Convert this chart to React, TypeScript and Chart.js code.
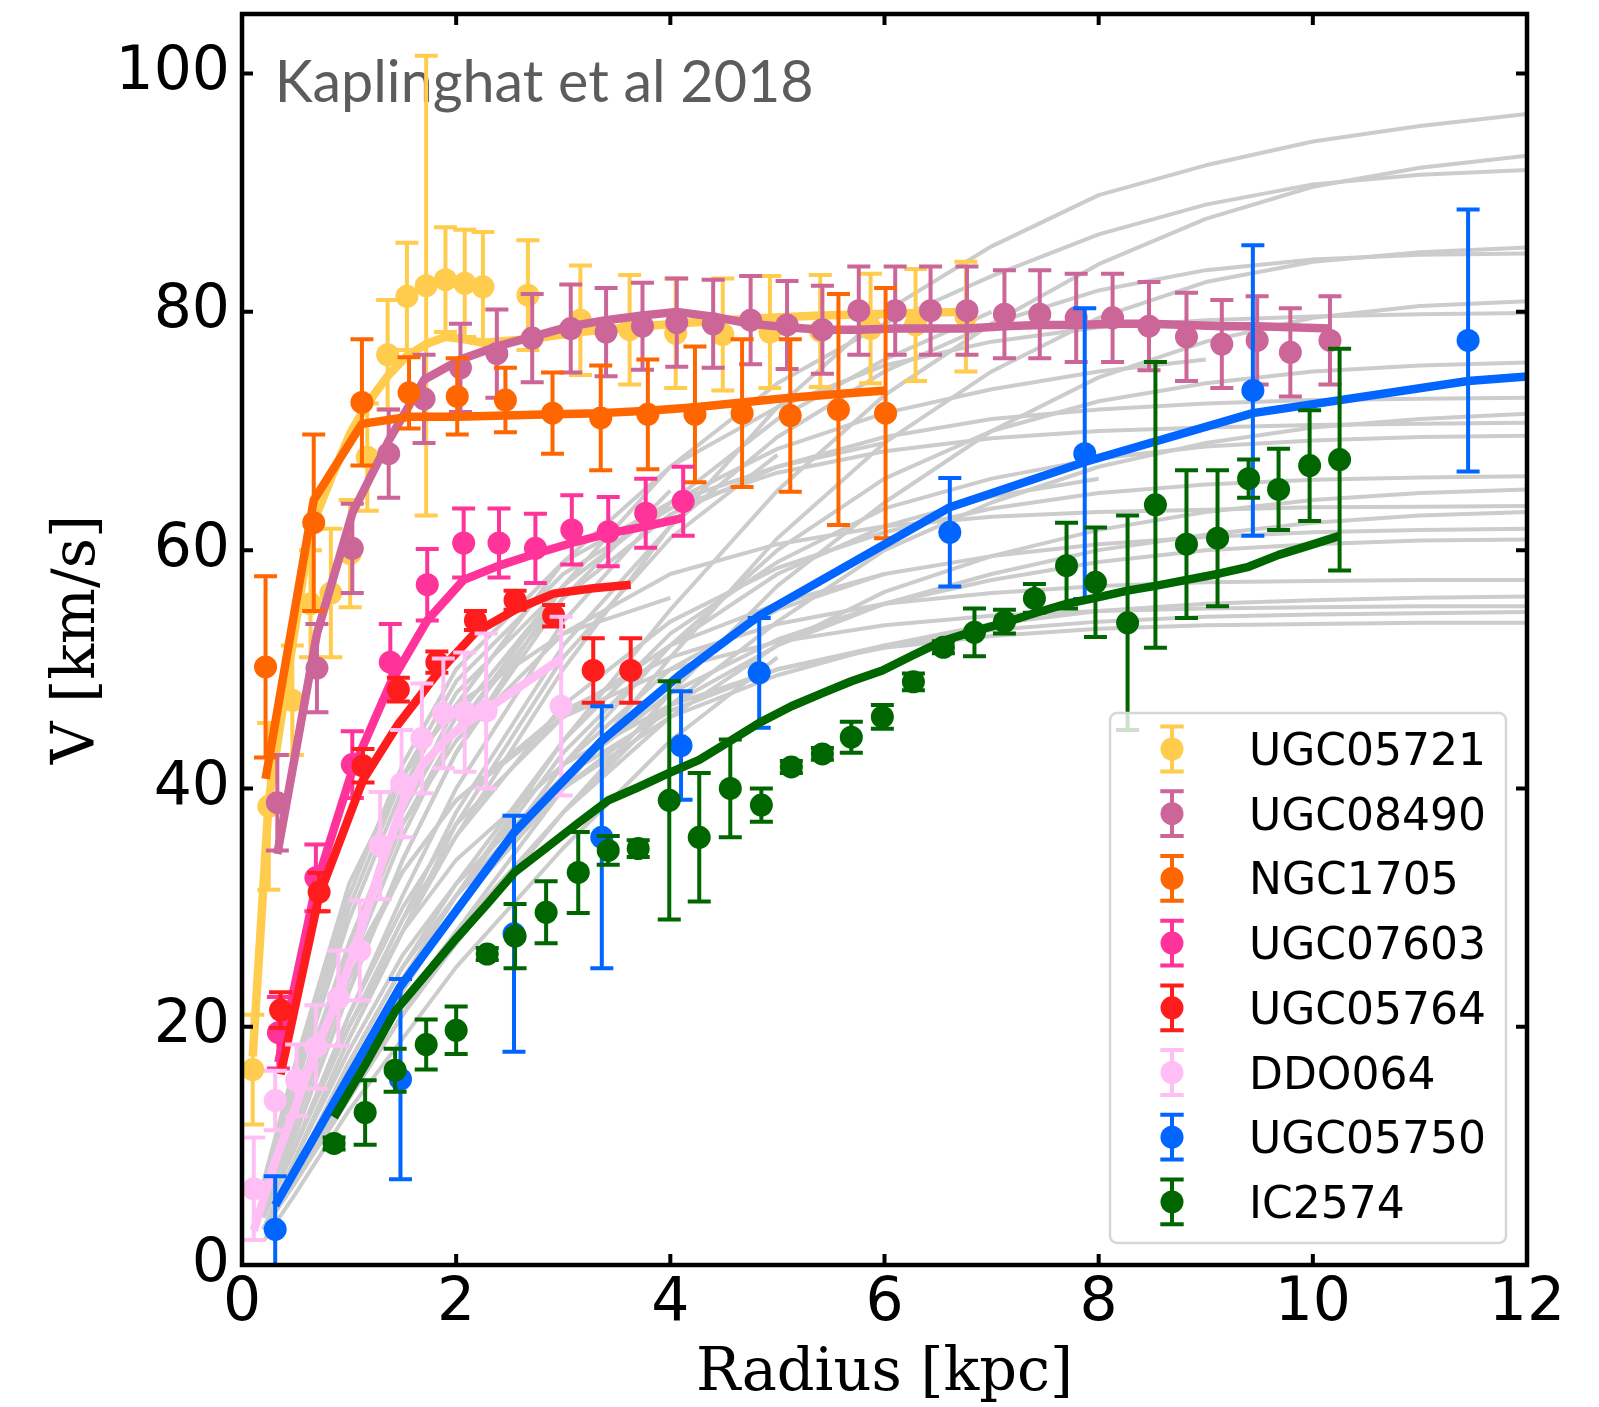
import React, { useEffect, useRef } from "react";
import { Chart, registerables } from "chart.js";

Chart.register(...registerables);

const CANVAS_W = 1599;
const CANVAS_H = 1407;

const xTickValues = [0, 2, 4, 6, 8, 10, 12];
const yTickValues = [0, 20, 40, 60, 80, 100];
const xTitle = "Radius [kpc]";
const yTitle = "V [km/s]";
const annotationText = "Kaplinghat et al 2018";

// ---- UGC05721 ----
const ugc05721R = [0.1, 0.25, 0.47, 0.64, 0.83, 1.01, 1.17, 1.36, 1.54, 1.72, 1.9, 2.08, 2.25, 2.67, 3.16, 3.62, 4.05, 4.49, 4.93, 5.4, 5.87, 6.29, 6.76];
const ugc05721V = [16.4, 38.5, 47.4, 55.5, 56.4, 59.7, 67.8, 76.4, 81.3, 82.2, 82.7, 82.4, 82.1, 81.4, 79.3, 78.5, 78.2, 78.1, 78.3, 78.4, 78.6, 78.9, 79.6];
const ugc05721E = [4.6, 7.0, 4.6, 4.5, 5.4, 4.5, 4.5, 4.6, 4.5, 19.3, 4.4, 4.5, 4.6, 4.6, 4.6, 4.6, 4.6, 4.7, 4.7, 4.7, 4.6, 4.7, 4.6];
const ugc05721M = [17.5, 39, 52, 61.7, 66, 69.8, 72.3, 74.6, 76.3, 77.3, 77.9, 77.7, 77.4, 77.7, 78.3, 78.7, 79.0, 79.3, 79.5, 79.7, 79.8, 79.9, 80.0];

// ---- UGC08490 ----
const ugc08490R = [0.33, 0.7, 1.03, 1.37, 1.7, 2.04, 2.38, 2.71, 3.07, 3.4, 3.74, 4.06, 4.4, 4.75, 5.09, 5.42, 5.76, 6.1, 6.43, 6.77, 7.12, 7.45, 7.79, 8.13, 8.47, 8.82, 9.15, 9.48, 9.79, 10.16];
const ugc08490V = [38.8, 50.1, 60.15, 68.1, 72.7, 75.3, 76.5, 77.8, 78.6, 78.3, 78.8, 79.1, 79.0, 79.3, 78.9, 78.5, 80.1, 80.1, 80.1, 80.1, 79.8, 79.8, 79.5, 79.5, 78.8, 77.9, 77.3, 77.6, 76.6, 77.6];
const ugc08490E = [4.0, 3.7, 3.75, 3.7, 3.7, 3.7, 3.7, 3.7, 3.7, 3.7, 3.65, 3.7, 3.7, 3.7, 3.7, 3.7, 3.7, 3.7, 3.7, 3.7, 3.7, 3.7, 3.7, 3.7, 3.7, 3.7, 3.7, 3.7, 3.7, 3.7];
const ugc08490M = [34.5, 53, 63.1, 69.2, 74.3, 76.0, 77.1, 77.9, 78.8, 79.3, 79.7, 80.0, 79.6, 79.0, 78.7, 78.5, 78.5, 78.6, 78.6, 78.6, 78.8, 78.9, 78.9, 79.0, 79.0, 78.9, 78.8, 78.8, 78.7, 78.6];

// ---- NGC1705 ----
const ngc1705R = [0.22, 0.67, 1.12, 1.56, 2.01, 2.46, 2.9, 3.35, 3.79, 4.23, 4.67, 5.12, 5.57, 6.01];
const ngc1705V = [50.2, 62.3, 72.4, 73.2, 72.9, 72.6, 71.5, 71.1, 71.4, 71.4, 71.5, 71.3, 71.8, 71.5];
const ngc1705E = [7.6, 7.4, 5.3, 3.0, 3.2, 2.7, 3.4, 4.4, 4.6, 5.7, 6.2, 6.4, 9.7, 10.5];
const ngc1705M = [40.8, 64.2, 70.6, 71.2, 71.2, 71.3, 71.4, 71.5, 71.7, 72.0, 72.4, 72.8, 73.1, 73.4];

// ---- UGC07603 ----
const ugc07603R = [0.34, 0.69, 1.03, 1.385, 1.73, 2.07, 2.4, 2.74, 3.08, 3.42, 3.77, 4.12];
const ugc07603V = [19.5, 32.5, 42.0, 50.6, 57.1, 60.6, 60.6, 60.15, 61.7, 61.55, 63.1, 64.1];
const ugc07603E = [3.0, 2.8, 2.8, 3.2, 3.0, 2.9, 2.9, 2.9, 2.9, 2.9, 2.9, 2.9];
const ugc07603M = [17.0, 31.8, 41.5, 48.8, 54.1, 57.5, 58.7, 59.7, 60.6, 61.4, 62.0, 62.7];

// ---- UGC05764 ----
const ugc05764R = [0.36, 0.72, 1.13, 1.46, 1.82, 2.18, 2.55, 2.91, 3.28, 3.63];
const ugc05764V = [21.4, 31.3, 41.9, 48.3, 50.6, 54.1, 55.8, 54.5, 49.9, 49.9];
const ugc05764E = [1.5, 1.6, 1.4, 1.0, 0.9, 0.8, 0.8, 0.9, 2.7, 2.7];
const ugc05764M = [16.0, 31.0, 40.7, 45.4, 49.6, 53.1, 55.0, 56.35, 56.8, 57.1];

// ---- DDO064 ----
const ddo064R = [0.11, 0.31, 0.51, 0.69, 0.9, 1.1, 1.29, 1.49, 1.68, 1.88, 2.08, 2.28, 2.98];
const ddo064V = [6.4, 13.8, 15.5, 18.3, 22.4, 26.4, 35.2, 40.4, 44.2, 46.3, 46.4, 46.5, 46.9];
const ddo064E = [4.3, 2.5, 3.0, 3.5, 4.0, 4.2, 4.5, 4.5, 4.6, 4.6, 5.0, 6.5, 7.5];
const ddo064M = [2.9, 8.7, 13.5, 18.1, 22.4, 27.8, 33.3, 38.5, 41.9, 43.9, 45.4, 46.6, 50.9];

// ---- UGC05750 ----
const ugc05750R = [0.31, 1.48, 2.54, 3.36, 4.1, 4.83, 6.61, 7.87, 9.44, 11.45];
const ugc05750V = [3.0, 15.6, 27.8, 35.9, 43.6, 49.7, 61.5, 68.1, 73.4, 77.6];
const ugc05750E = [4.45, 8.4, 9.9, 11.0, 4.55, 4.6, 4.55, 12.2, 12.2, 11.0];
const ugc05750ModelR = [0.31, 1.48, 2.54, 3.36, 4.1, 4.83, 6.61, 7.87, 9.44, 11.45, 12.5];
const ugc05750M = [5.0, 23.4, 36.3, 44.0, 49.6, 54.5, 63.6, 67.4, 71.5, 74.2, 74.9];

// ---- IC2574 ----
const ic2574R = [0.86, 1.15, 1.43, 1.72, 2.0, 2.29, 2.55, 2.84, 3.14, 3.42, 3.7, 3.99, 4.27, 4.56, 4.85, 5.13, 5.42, 5.69, 5.98, 6.27, 6.55, 6.84, 7.12, 7.4, 7.7, 7.97, 8.27, 8.53, 8.82, 9.11, 9.4, 9.68, 9.97, 10.25];
const ic2574V = [10.2, 12.8, 16.35, 18.5, 19.7, 26.1, 27.6, 29.6, 32.95, 34.8, 34.95, 39.0, 35.9, 40.0, 38.6, 41.8, 42.9, 44.3, 46.0, 48.95, 51.85, 53.1, 54.0, 55.95, 58.7, 57.3, 53.9, 63.8, 60.5, 61.0, 66.0, 65.1, 67.1, 67.6];
const ic2574E = [0.5, 2.7, 1.8, 2.1, 2.0, 0.5, 2.7, 2.6, 3.4, 1.2, 0.7, 10.0, 5.4, 4.1, 1.4, 0.5, 0.5, 1.3, 1.0, 0.7, 0.5, 2.0, 1.0, 1.2, 3.6, 4.6, 9.0, 12.0, 6.2, 5.7, 1.6, 3.4, 4.65, 9.3];
const ic2574M = [12.4, 16.8, 21.3, 24.4, 27.4, 30.3, 33.0, 35.0, 37.1, 39.0, 40.1, 41.3, 42.4, 44.0, 45.6, 46.9, 48.0, 49.0, 49.9, 51.2, 52.4, 53.2, 53.9, 54.7, 55.5, 56.0, 56.6, 57.0, 57.5, 58.0, 58.6, 59.6, 60.4, 61.2];

// ---- background model curves (grey) ----
const grayRadii = [0.2, 0.5, 1, 1.5, 2, 3, 4, 5, 6, 7, 8, 9, 10, 11, 12];
const grayCurves = [
  [3, 9, 19, 28, 36, 50, 62, 72, 80, 85.5, 89.8, 92.3, 94.3, 95.6, 96.6],
  [3, 8, 16, 24, 31, 44, 55, 65, 73, 79, 84, 87.8, 90.5, 92.1, 93.1],
  [4, 11, 23, 34, 43, 57, 67, 74, 79, 83, 86.5, 89, 90.7, 91.5, 91.9],
  [3, 7, 14, 21, 28, 40, 51, 61, 69, 75, 79.5, 82.5, 84.2, 85, 85.4],
  [4, 10, 20, 29, 38, 52, 62, 69.5, 75, 79, 81.8, 83.5, 84.4, 84.8, 84.9],
  [3, 7, 14, 21, 27, 38, 48, 57, 64, 70, 74.5, 77.5, 79.5, 80.5, 80.9],
  [5, 13, 27, 38, 47, 59, 67, 72, 75.5, 77.5, 78.7, 79.3, 79.6, 79.8, 79.9],
  [3, 8, 16, 23, 30, 42, 52, 60, 66, 70, 72.5, 74, 75, 75.5, 75.75],
  [5, 13, 26, 37, 45, 56, 63, 67, 69.5, 71, 71.8, 72.3, 72.6, 72.7, 72.8],
  [3, 7, 14, 21, 27, 38, 47, 54, 60, 64, 67, 69, 70.3, 71, 71.45],
  [6, 15, 30, 41, 49, 58, 63.5, 66.5, 68.3, 69.4, 70, 70.3, 70.5, 70.6, 70.7],
  [3, 8, 17, 25, 32, 44, 53, 59, 63.5, 66, 67.7, 68.7, 69.2, 69.5, 69.6],
  [4, 10, 20, 29, 36, 47, 54, 58.5, 61.5, 63.5, 64.8, 65.5, 65.9, 66.1, 66.2],
  [3, 7, 15, 22, 28, 38, 46, 52, 56.5, 59.5, 61.7, 63.2, 64.2, 64.8, 65.1],
  [6, 14, 27, 37, 44, 53, 58, 60.5, 62, 62.8, 63.2, 63.4, 63.6, 63.65, 63.7],
  [3, 8, 16, 24, 30, 40, 47, 52, 55.5, 58, 60, 61.3, 62.3, 62.9, 63.2],
  [4, 10, 21, 30, 37, 46, 52, 55.5, 58, 59.5, 60.5, 61.1, 61.5, 61.7, 61.8],
  [3, 8, 17, 25, 31, 41, 48, 52.5, 55.5, 57.5, 59, 60, 60.5, 60.8, 60.9],
  [5, 12, 24, 33, 39, 46.5, 51, 53.8, 55.5, 56.4, 57, 57.3, 57.4, 57.5, 57.5],
  [3, 8, 17, 25, 31, 40, 46, 49.5, 52, 53.8, 54.9, 55.5, 55.8, 56, 56.1],
  [5, 13, 25, 33, 39, 46, 50, 52.3, 53.7, 54.5, 54.9, 55.1, 55.2, 55.3, 55.3],
  [3, 9, 18, 26, 32, 41, 46.5, 50, 52, 53.3, 54, 54.4, 54.6, 54.7, 54.8],
  [4, 10, 20, 28, 34, 42, 47, 50, 51.8, 52.8, 53.4, 53.7, 53.8, 53.9, 53.9],
  [5, 13, 27, 38, 46, 57],
  [4, 11, 23, 34, 43, 56, 65],
  [3, 9, 19, 28, 37, 51, 61, 68],
  [6, 16, 31, 42, 50, 59, 64, 67, 69],
  [4, 10, 21, 31, 40, 54, 64, 71, 76, 80],
  [3, 8, 16, 24, 31, 43, 52, 58, 62, 64.5, 66],
  [7, 17, 32, 41, 47, 53, 56],
  [4, 12, 25, 36, 45, 57, 64, 68.5, 71.5, 73.5, 75, 76],
  [3, 7, 15, 23, 30, 42, 50, 55, 58],
  [6, 15, 29, 40, 48, 57],
  [2, 6, 13, 19, 25, 35, 44, 51],
];

const galaxyNames = ["UGC05721", "UGC08490", "NGC1705", "UGC07603", "UGC05764", "DDO064", "UGC05750", "IC2574"];
const galaxyColors = ["#ffcc4d", "#cc6699", "#ff6600", "#ff3399", "#ff1c1c", "#ffbff5", "#0066ff", "#006600"];

const galaxies = [
  { r: ugc05721R, v: ugc05721V, e: ugc05721E, mr: ugc05721R, mv: ugc05721M },
  { r: ugc08490R, v: ugc08490V, e: ugc08490E, mr: ugc08490R, mv: ugc08490M },
  { r: ngc1705R, v: ngc1705V, e: ngc1705E, mr: ngc1705R, mv: ngc1705M },
  { r: ugc07603R, v: ugc07603V, e: ugc07603E, mr: ugc07603R, mv: ugc07603M },
  { r: ugc05764R, v: ugc05764V, e: ugc05764E, mr: ugc05764R, mv: ugc05764M },
  { r: ddo064R, v: ddo064V, e: ddo064E, mr: ddo064R, mv: ddo064M },
  { r: ugc05750R, v: ugc05750V, e: ugc05750E, mr: ugc05750ModelR, mv: ugc05750M },
  { r: ic2574R, v: ic2574V, e: ic2574E, mr: ic2574R, mv: ic2574M },
].map((g, i) => ({ ...g, name: galaxyNames[i], color: galaxyColors[i] }));

const MARKER_R = 11.5;
const ERR_LW = 4;
const CAP_HALF = 11.5;

function clipArea(ctx: CanvasRenderingContext2D, a: any) {
  ctx.beginPath();
  ctx.rect(a.left, a.top, a.right - a.left, a.bottom - a.top);
  ctx.clip();
}

const errorBarPlugin = {
  id: "errorBars",
  beforeDatasetDraw(chart: any, args: any) {
    const ds = chart.data.datasets[args.index];
    if (!ds.errors) return;
    const { ctx, chartArea } = chart;
    const xs = chart.scales.x;
    const ys = chart.scales.y;
    ctx.save();
    clipArea(ctx, chartArea);
    ctx.strokeStyle = ds.backgroundColor;
    ctx.lineWidth = ERR_LW;
    ctx.lineCap = "butt";
    ds.data.forEach((p: any, i: number) => {
      const px = xs.getPixelForValue(p.x);
      const yt = ys.getPixelForValue(p.y + ds.errors[i]);
      const yb = ys.getPixelForValue(p.y - ds.errors[i]);
      ctx.beginPath();
      ctx.moveTo(px, yt);
      ctx.lineTo(px, yb);
      ctx.moveTo(px - CAP_HALF, yt);
      ctx.lineTo(px + CAP_HALF, yt);
      ctx.moveTo(px - CAP_HALF, yb);
      ctx.lineTo(px + CAP_HALF, yb);
      ctx.stroke();
    });
    ctx.restore();
  },
};

const annotationPlugin = {
  id: "annotation",
  beforeDatasetsDraw(chart: any) {
    const { ctx } = chart;
    ctx.save();
    ctx.font = "59px Lato";
    ctx.fillStyle = "#5c5c5c";
    ctx.textBaseline = "alphabetic";
    ctx.textAlign = "left";
    const m = ctx.measureText(annotationText);
    const ink = m.actualBoundingBoxRight + m.actualBoundingBoxLeft;
    const sx = 532 / ink;
    ctx.translate(279.5, 101.7);
    ctx.scale(sx, 1);
    ctx.fillText(annotationText, m.actualBoundingBoxLeft, 0);
    ctx.restore();
  },
};

const framePlugin = {
  id: "frame",
  afterDatasetsDraw(chart: any) {
    const { ctx, chartArea: a } = chart;
    const xs = chart.scales.x;
    const ys = chart.scales.y;
    ctx.save();
    ctx.strokeStyle = "#000";
    ctx.lineWidth = 4;
    const tl = 11;
    ctx.beginPath();
    xTickValues.forEach((v) => {
      const px = xs.getPixelForValue(v);
      ctx.moveTo(px, a.bottom);
      ctx.lineTo(px, a.bottom - tl);
      ctx.moveTo(px, a.top);
      ctx.lineTo(px, a.top + tl);
    });
    yTickValues.forEach((v) => {
      const py = ys.getPixelForValue(v);
      ctx.moveTo(a.left, py);
      ctx.lineTo(a.left + tl, py);
      ctx.moveTo(a.right, py);
      ctx.lineTo(a.right - tl, py);
    });
    ctx.stroke();
    ctx.lineWidth = 4.5;
    ctx.lineJoin = "miter";
    ctx.strokeRect(a.left, a.top, a.right - a.left, a.bottom - a.top);
    ctx.restore();
  },
};

const legendPlugin = {
  id: "customLegend",
  afterDraw(chart: any) {
    const { ctx } = chart;
    const bx = 1110, by = 713, bw = 396, bh = 530, rad = 7;
    ctx.save();
    ctx.beginPath();
    ctx.moveTo(bx + rad, by);
    ctx.arcTo(bx + bw, by, bx + bw, by + bh, rad);
    ctx.arcTo(bx + bw, by + bh, bx, by + bh, rad);
    ctx.arcTo(bx, by + bh, bx, by, rad);
    ctx.arcTo(bx, by, bx + bw, by, rad);
    ctx.closePath();
    ctx.fillStyle = "rgba(255,255,255,0.8)";
    ctx.fill();
    ctx.strokeStyle = "#d6d6d6";
    ctx.lineWidth = 2.5;
    ctx.stroke();
    const mx = 1172;
    galaxies.forEach((g, i) => {
      const cy = 749 + i * 64.7;
      ctx.strokeStyle = g.color;
      ctx.lineWidth = ERR_LW;
      ctx.beginPath();
      ctx.moveTo(mx, cy - 22.4);
      ctx.lineTo(mx, cy + 22.4);
      ctx.moveTo(mx - 11.7, cy - 22.4);
      ctx.lineTo(mx + 11.7, cy - 22.4);
      ctx.moveTo(mx - 11.7, cy + 22.4);
      ctx.lineTo(mx + 11.7, cy + 22.4);
      ctx.stroke();
      ctx.fillStyle = g.color;
      ctx.beginPath();
      ctx.arc(mx, cy, MARKER_R, 0, Math.PI * 2);
      ctx.fill();
      ctx.fillStyle = "#000";
      ctx.font = "44px 'DejaVu Sans'";
      ctx.textAlign = "left";
      ctx.textBaseline = "alphabetic";
      ctx.fillText(g.name, 1249, cy + 16);
    });
    ctx.restore();
  },
};

function buildConfig(): any {
  const datasets: any[] = [];
  grayCurves.forEach((c) => {
    datasets.push({
      type: "line",
      data: c.map((y, i) => ({ x: grayRadii[i], y })),
      borderColor: "#cccccc",
      borderWidth: 4,
      pointRadius: 0,
      tension: 0,
      fill: false,
      borderJoinStyle: "round",
      clip: 0,
      order: 1000,
    });
  });
  galaxies.forEach((g, k) => {
    datasets.push({
      type: "scatter",
      label: g.name,
      data: g.r.map((x, i) => ({ x, y: g.v[i] })),
      errors: g.e,
      backgroundColor: g.color,
      borderColor: g.color,
      borderWidth: 0,
      pointRadius: MARKER_R,
      pointHoverRadius: MARKER_R,
      clip: 0,
      order: 200 - 2 * k,
    });
    datasets.push({
      type: "line",
      label: g.name + " model",
      data: g.mr.map((x, i) => ({ x, y: g.mv[i] })),
      borderColor: g.color,
      borderWidth: 8.5,
      pointRadius: 0,
      tension: 0,
      fill: false,
      borderJoinStyle: "round",
      clip: 0,
      order: 199 - 2 * k,
    });
  });

  return {
    type: "scatter",
    data: { datasets },
    plugins: [annotationPlugin, errorBarPlugin, framePlugin, legendPlugin],
    options: {
      responsive: false,
      maintainAspectRatio: false,
      devicePixelRatio: 1,
      animation: false,
      events: [],
      layout: { padding: { top: 14, right: 72, left: 0, bottom: 0 } },
      plugins: { legend: { display: false }, tooltip: { enabled: false }, title: { display: false } },
      scales: {
        x: {
          type: "linear",
          min: 0,
          max: 12,
          afterBuildTicks: (s: any) => {
            s.ticks = xTickValues.map((v) => ({ value: v }));
          },
          afterFit: (s: any) => {
            s.height = 142;
            s.paddingLeft = 0;
            s.paddingRight = 0;
          },
          grid: { display: false, drawTicks: false },
          border: { display: false },
          ticks: {
            font: { family: "'DejaVu Sans'", size: 60 },
            color: "#000",
            padding: 3,
            maxRotation: 0,
            autoSkip: false,
          },
          title: {
            display: true,
            text: xTitle,
            font: { family: "'DejaVu Serif'", size: 59 },
            color: "#000",
            padding: { top: 0, bottom: -3 },
          },
        },
        y: {
          type: "linear",
          min: 0,
          max: 105,
          afterBuildTicks: (s: any) => {
            s.ticks = yTickValues.map((v) => ({ value: v }));
          },
          afterFit: (s: any) => {
            s.width = 242;
            s.paddingTop = 0;
            s.paddingBottom = 0;
          },
          grid: { display: false, drawTicks: false },
          border: { display: false },
          ticks: {
            font: { family: "'DejaVu Sans'", size: 60 },
            color: "#000",
            padding: 12,
            autoSkip: false,
          },
          title: {
            display: true,
            text: yTitle,
            font: { family: "'DejaVu Serif'", size: 59 },
            color: "#000",
            padding: { top: 43, bottom: 0 },
          },
        },
      },
    },
  };
}

export default function App() {
  const ref = useRef<HTMLCanvasElement | null>(null);
  useEffect(() => {
    if (!ref.current) return;
    const chart = new Chart(ref.current, buildConfig());
    return () => chart.destroy();
  }, []);
  return (
    <div style={{ position: "absolute", left: 0, top: 0, width: CANVAS_W, height: CANVAS_H, background: "#fff" }}>
      <canvas ref={ref} width={CANVAS_W} height={CANVAS_H} style={{ display: "block", width: CANVAS_W, height: CANVAS_H }} />
    </div>
  );
}
